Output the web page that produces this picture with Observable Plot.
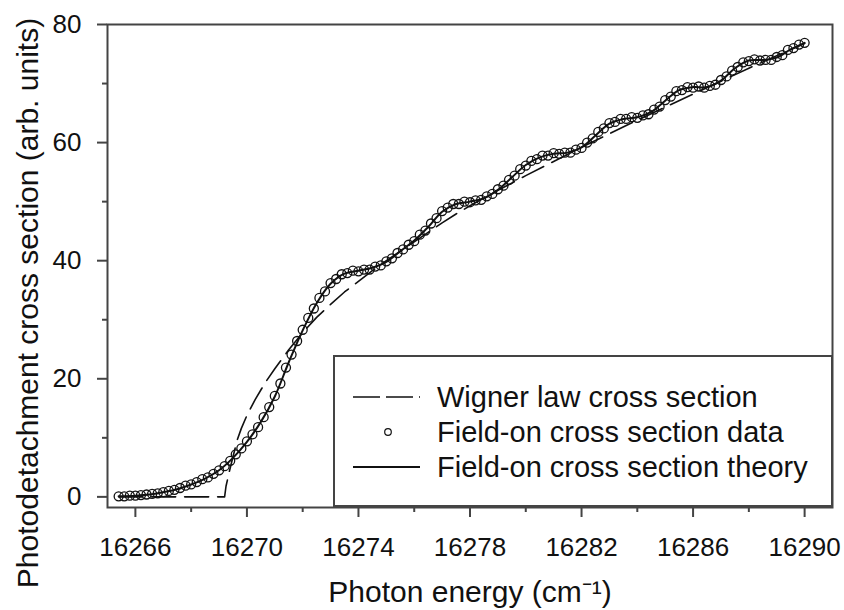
<!DOCTYPE html>
<html>
<head>
<meta charset="utf-8">
<script src="https://cdn.jsdelivr.net/npm/d3@7"></script>
<script src="https://cdn.jsdelivr.net/npm/@observablehq/plot@0.6"></script>
<style>
  html, body { margin: 0; padding: 0; background: #fff; }
  #wrap { position: relative; width: 844px; height: 610px; font-family: "Liberation Sans", Arial, sans-serif; }
  #legend { position: absolute; left: 333px; top: 355px; }
</style>
</head>
<body>
<div id="wrap"></div>
<script>
// ---- data ----
const dataEnergy = [16265.4,16265.6,16265.8,16266.0,16266.2,16266.4,16266.6,16266.8,16267.0,16267.2,16267.4,16267.6,16267.8,16268.0,16268.2,16268.4,16268.6,16268.8,16269.0,16269.2,16269.4,16269.6,16269.8,16270.0,16270.2,16270.4,16270.6,16270.8,16271.0,16271.2,16271.4,16271.6,16271.8,16272.0,16272.2,16272.4,16272.6,16272.8,16273.0,16273.2,16273.4,16273.6,16273.8,16274.0,16274.2,16274.4,16274.6,16274.8,16275.0,16275.2,16275.4,16275.6,16275.8,16276.0,16276.2,16276.4,16276.6,16276.8,16277.0,16277.2,16277.4,16277.6,16277.8,16278.0,16278.2,16278.4,16278.6,16278.8,16279.0,16279.2,16279.4,16279.6,16279.8,16280.0,16280.2,16280.4,16280.6,16280.8,16281.0,16281.2,16281.4,16281.6,16281.8,16282.0,16282.2,16282.4,16282.6,16282.8,16283.0,16283.2,16283.4,16283.6,16283.8,16284.0,16284.2,16284.4,16284.6,16284.8,16285.0,16285.2,16285.4,16285.6,16285.8,16286.0,16286.2,16286.4,16286.6,16286.8,16287.0,16287.2,16287.4,16287.6,16287.8,16288.0,16288.2,16288.4,16288.6,16288.8,16289.0,16289.2,16289.4,16289.6,16289.8,16290.0];
const dataSignal = [0.1,0.1,0.2,0.2,0.3,0.4,0.5,0.6,0.8,1.0,1.2,1.5,1.9,2.1,2.5,3.0,3.3,3.9,4.5,5.2,6.1,7.2,8.2,9.4,10.6,11.8,13.5,15.2,17.1,19.2,21.9,24.1,26.4,28.3,30.3,31.9,33.7,34.8,36.2,36.9,37.7,37.9,38.3,38.2,38.5,38.5,39.0,39.2,39.9,40.4,41.3,41.9,42.7,43.3,44.4,45.1,46.3,47.2,48.4,49.0,49.6,49.6,50.0,49.9,50.2,50.3,50.9,51.3,52.1,52.7,53.7,54.4,55.5,56.1,56.9,57.2,57.8,57.8,58.2,58.1,58.3,58.3,58.8,59.1,60.0,60.7,61.8,62.4,63.3,63.5,64.0,64.0,64.3,64.2,64.6,64.8,65.6,66.1,67.2,67.8,68.7,68.9,69.4,69.3,69.5,69.3,69.6,69.8,70.6,71.2,72.2,72.8,73.6,73.8,74.1,73.9,74.0,74.0,74.5,74.8,75.7,76.0,76.6,76.9];

const theoryEnergy = [16265.4,16266.0,16266.5,16267.0,16267.5,16268.0,16268.5,16269.0,16269.5,16270.0,16270.5,16271.0,16271.5,16272.0,16272.5,16273.0,16273.5,16274.0,16274.5,16275.0,16275.5,16276.0,16276.5,16277.0,16277.5,16278.0,16278.5,16279.0,16279.5,16280.0,16280.5,16281.0,16281.5,16282.0,16282.5,16283.0,16283.5,16284.0,16284.5,16285.0,16285.5,16286.0,16286.5,16287.0,16287.5,16288.0,16288.5,16289.0,16289.5,16290.0];
const theorySignal = [0.1,0.2,0.4,0.8,1.3,2.1,3.1,4.5,6.6,9.3,12.7,17.0,22.8,28.2,32.8,36.1,37.8,38.3,38.8,39.8,41.6,43.4,45.7,48.3,49.6,50.0,50.6,52.0,54.1,56.2,57.5,58.1,58.3,59.2,61.2,63.2,64.0,64.3,65.2,67.1,68.9,69.4,69.4,70.5,72.6,73.9,74.0,74.4,75.8,76.9];

const wignerEnergy = [16265.4,16269.2,16269.25,16269.35,16269.5,16269.65,16269.8,16270.0,16270.3,16270.65,16271.0,16271.5,16272.0,16272.5,16273.0,16273.5,16274.0,16274.5,16275.0,16275.5,16276.0,16276.5,16277.0,16277.5,16278.0,16279.0,16280.0,16281.0,16282.0,16283.0,16284.0,16285.0,16286.0,16287.0,16288.0,16289.0,16290.0];
const wignerSignal = [0,0,1.8,3.9,6.8,9.6,11.6,13.8,16.5,19.3,21.7,24.9,27.8,30.4,32.6,34.7,36.5,38.3,40.0,41.6,43.2,44.8,46.4,47.9,49.3,51.9,54.4,56.8,59.2,61.5,63.8,66.0,68.2,70.4,72.6,74.7,76.8];

const xMajorTicks = [16266,16270,16274,16278,16282,16286,16290];
const xMinorTicks = [16268,16272,16276,16280,16284,16288];
const yMajorTicks = [0,20,40,60,80];
const yMinorTicks = [10,30,50,70];

const xTitle = "Photon energy (cm\u207B\u00B9)";
const yTitle = "Photodetachment cross section (arb. units)";
const legendLabels = ["Wigner law cross section","Field-on cross section data","Field-on cross section theory"];

// ---- build tables ----
const dataPts = dataEnergy.map((e, i) => ({e, s: dataSignal[i]}));
const theoryPts = theoryEnergy.map((e, i) => ({e, s: theorySignal[i]}));
const wignerPts = wignerEnergy.map((e, i) => ({e, s: wignerSignal[i]}));

const ink = "#111";
const axisInk = "#444";
const FONT = "'Liberation Sans', Arial, sans-serif";

const chart = Plot.plot({
  width: 844,
  height: 610,
  marginLeft: 107,
  marginRight: 12,
  marginTop: 24,
  marginBottom: 103,
  x: {domain: [16265, 16291], label: null},
  y: {domain: [-1.8, 80], label: null},
  style: {fontFamily: FONT, background: "#fff", color: ink},
  marks: [
    Plot.axisX({ticks: xMinorTicks, tickSize: 5, tickFormat: () => "", stroke: axisInk, strokeWidth: 2, label: null}),
    Plot.axisX({ticks: xMajorTicks, tickSize: 10, tickPadding: 20, tickFormat: d => String(d), stroke: axisInk, strokeWidth: 2, fontSize: 26, fill: ink, label: null}),
    Plot.axisY({ticks: yMinorTicks, tickSize: 5, tickFormat: () => "", stroke: axisInk, strokeWidth: 2, label: null}),
    Plot.axisY({ticks: yMajorTicks, tickSize: 10, tickPadding: 16, tickFormat: d => String(d), stroke: axisInk, strokeWidth: 2, fontSize: 26, fill: ink, label: null}),
    Plot.line(wignerPts, {x: "e", y: "s", stroke: ink, strokeWidth: 1.6, strokeDasharray: "24,9", curve: "linear"}),
    Plot.dot(dataPts, {x: "e", y: "s", r: 4.5, stroke: ink, strokeWidth: 1.3, fill: "none"}),
    Plot.line(theoryPts, {x: "e", y: "s", stroke: ink, strokeWidth: 2, curve: "catmull-rom"}),
    Plot.frame({stroke: axisInk, strokeWidth: 2}),
    Plot.text([xTitle], {frameAnchor: "bottom", dy: 94, lineAnchor: "bottom", fontSize: 30, fill: ink}),
    Plot.text([yTitle], {frameAnchor: "left", dx: -70, dy: 37, rotate: -90, textAnchor: "middle", lineAnchor: "bottom", fontSize: 30, fill: ink})
  ]
});

const wrap = document.getElementById("wrap");
wrap.appendChild(chart);

// ---- legend (inside the plot frame, lower right) ----
const lg = d3.select(wrap).append("svg")
  .attr("id", "legend")
  .attr("width", 500).attr("height", 152)
  .style("font-family", FONT);
lg.append("rect").attr("x", 1).attr("y", 1).attr("width", 498).attr("height", 150)
  .attr("fill", "#fff").attr("stroke", axisInk).attr("stroke-width", 2);
const rowY = [42, 77, 112];
lg.append("line").attr("x1", 20).attr("x2", 87).attr("y1", rowY[0]).attr("y2", rowY[0])
  .attr("stroke", ink).attr("stroke-width", 1.6).attr("stroke-dasharray", "27,6,27,6,1.5");
lg.append("circle").attr("cx", 55).attr("cy", rowY[1]).attr("r", 3.3)
  .attr("fill", "none").attr("stroke", ink).attr("stroke-width", 1.2);
lg.append("line").attr("x1", 20).attr("x2", 87).attr("y1", rowY[2]).attr("y2", rowY[2])
  .attr("stroke", ink).attr("stroke-width", 1.8);
legendLabels.forEach((t, i) => {
  lg.append("text").attr("x", 104).attr("y", rowY[i] + 10)
    .attr("font-size", 29).attr("fill", ink).text(t);
});
</script>
</body>
</html>
